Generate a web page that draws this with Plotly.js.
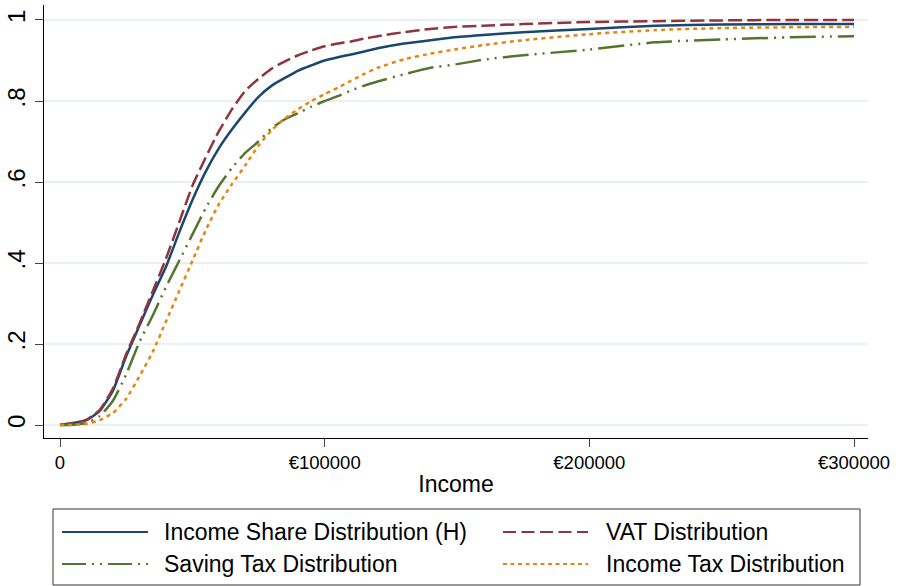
<!DOCTYPE html>
<html>
<head>
<meta charset="utf-8">
<script src="https://cdn.plot.ly/plotly-3.0.1.min.js"></script>
<style>html,body{margin:0;padding:0;background:#fff;}#chart{width:898px;height:586px;}</style>
</head>
<body>
<div id="chart"></div>
<script>
// ---- data ----
const income = [0,5000,10000,15000,20000,25000,30000,35000,40000,45000,50000,55000,60000,65000,70000,75000,80000,85000,90000,95000,100000,105000,110000,115000,120000,130000,140000,150000,160000,175000,200000,225000,250000,275000,300000];
const incomeShare = [0,0.005,0.012,0.035,0.085,0.17,0.245,0.32,0.39,0.475,0.555,0.625,0.683,0.73,0.772,0.81,0.838,0.857,0.875,0.888,0.9,0.908,0.915,0.922,0.93,0.942,0.95,0.958,0.963,0.97,0.978,0.986,0.989,0.99,0.99];
const vatDist = [0,0.005,0.013,0.037,0.09,0.175,0.25,0.33,0.41,0.5,0.59,0.66,0.725,0.78,0.825,0.855,0.88,0.898,0.913,0.925,0.935,0.942,0.947,0.954,0.96,0.97,0.978,0.983,0.986,0.99,0.995,0.997,0.999,1.0,1.0];
const savingTax = [0,0.001,0.005,0.022,0.06,0.125,0.205,0.27,0.34,0.405,0.47,0.535,0.59,0.635,0.672,0.70,0.733,0.755,0.77,0.786,0.8,0.812,0.826,0.838,0.848,0.866,0.882,0.891,0.902,0.913,0.927,0.945,0.952,0.957,0.96];
const incomeTax = [0,0.0,0.003,0.012,0.03,0.065,0.12,0.18,0.255,0.33,0.405,0.48,0.545,0.595,0.641,0.69,0.728,0.757,0.78,0.8,0.817,0.833,0.85,0.867,0.882,0.903,0.917,0.928,0.938,0.95,0.965,0.975,0.98,0.982,0.983];
const seriesNames = ["Income Share Distribution (H)", "VAT Distribution", "Saving Tax Distribution", "Income Tax Distribution"];
const xTickVals = [0,100000,200000,300000];
const xTickText = ["0","€100000","€200000","€300000"];
const yTickVals = [0,0.2,0.4,0.6,0.8,1];
const yTickText = ["0",".2",".4",".6",".8","1"];
const xTitle = "Income";

// ---- styles ----
const colors = ["#1a476f","#90353b","#55752f","#e8850c"];
const dashes = ["solid","14px,5px","26px,6px,2px,6px,2px,6px","4px,4px"];
const legendDashes = ["solid","13px,5.5px","24px,6px,2px,6px,2px,6px","4px,3.5px"];
const ys = [incomeShare, vatDist, savingTax, incomeTax];

const traces = ys.map((y,i)=>({
  x: income, y: y, type:'scatter', mode:'lines', name: seriesNames[i],
  line:{color:colors[i], width:2.5, dash:dashes[i], shape:'spline', smoothing:0.5},
  showlegend:false, hoverinfo:'skip'
}));

const W=898,H=586, L=44, R=868, T=5, B=438;
const px2x = p => (p-L)/(R-L);
const py2y = p => (B-p)/(B-T);

const shapes = [{type:'rect', xref:'paper', yref:'paper', x0:px2x(53), x1:px2x(860), y0:py2y(509), y1:py2y(585), line:{color:'#333', width:1}, fillcolor:'rgba(0,0,0,0)'}];
const annotations = [];
const cols = [{x0:62,x1:148,tx:162},{x0:503,x1:588,tx:604}];
const rows = [532,564];
const order = [[0,0],[1,0],[0,1],[1,1]]; // [col,row] per series
order.forEach((cr,i)=>{
  const c=cols[cr[0]], r=rows[cr[1]];
  shapes.push({type:'line', xref:'paper', yref:'paper', x0:px2x(c.x0), x1:px2x(c.x1), y0:py2y(r), y1:py2y(r), line:{color:colors[i], width:1.8, dash:legendDashes[i]}});
  annotations.push({xref:'paper', yref:'paper', x:px2x(c.tx), y:py2y(r), xanchor:'left', yanchor:'middle', showarrow:false, text:seriesNames[i], font:{family:'Liberation Sans, Arial, sans-serif', size:23, color:'#000'}});
});

const layout = {
  width:W, height:H,
  margin:{l:L, r:W-R, t:T, b:H-B, pad:0},
  paper_bgcolor:'#fff', plot_bgcolor:'#fff',
  font:{family:'Liberation Sans, Arial, sans-serif', color:'#000'},
  xaxis:{range:[-6045,305290], tickvals:xTickVals, ticktext:xTickText, showgrid:false, zeroline:false,
    showline:true, linecolor:'#000', linewidth:1, ticks:'outside', ticklen:8, tickcolor:'#444', tickwidth:1,
    tickfont:{size:18.5, color:'#000'}, title:{text:xTitle, font:{size:23}, standoff:3}},
  yaxis:{range:[-0.032,1.037], tickvals:yTickVals, ticktext:yTickText, tickangle:-90, showgrid:true, gridcolor:'#e8f0f2', gridwidth:1.5,
    zeroline:false, showline:true, linecolor:'#000', linewidth:1, ticks:'outside', ticklen:8, tickcolor:'#444', tickwidth:1,
    tickfont:{size:24, color:'#000'}},
  shapes:shapes, annotations:annotations, showlegend:false
};
Plotly.newPlot('chart', traces, layout, {staticPlot:true, displayModeBar:false});
</script>
</body>
</html>
